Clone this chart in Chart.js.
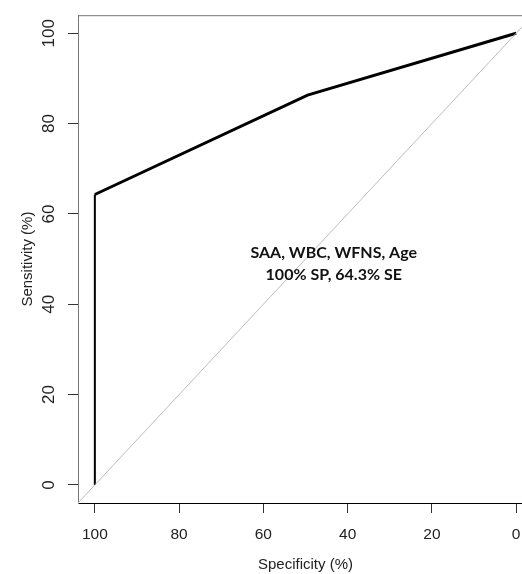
<!DOCTYPE html>
<html>
<head>
<meta charset="utf-8">
<script src="https://cdn.jsdelivr.net/npm/chart.js@4/dist/chart.umd.min.js"></script>
<style>
  html, body { margin: 0; padding: 0; background: #fff; overflow: hidden; }
  #wrap { width: 522px; height: 574px; overflow: hidden; }
  canvas { display: block; }
</style>
</head>
<body>
<div id="wrap"><canvas id="c" width="534" height="574"></canvas></div>
<script>
// ROC curve (specificity %, sensitivity %)
const specificity = [100, 100, 49.5, 0];
const sensitivity = [0, 64.3, 86.3, 100];
// chance (identity) line across the whole plot region
const chanceSpecificity = [104, -4];
const chanceSensitivity = [-4, 104];
// axis ticks
const xTickValues = [100, 80, 60, 40, 20, 0];
const yTickValues = [0, 20, 40, 60, 80, 100];
// annotation
const annotationLines = ["SAA, WBC, WFNS, Age", "100% SP, 64.3% SE"];
const annotationAt = { x: 43.3, y: 48.9 };

const FONT = '"Liberation Sans", Arial, sans-serif';

const rocPoints = specificity.map((s, i) => ({ x: s, y: sensitivity[i] }));
const chancePoints = chanceSpecificity.map((s, i) => ({ x: s, y: chanceSensitivity[i] }));

const frameAndText = {
  id: 'frameAndText',
  beforeDatasetsDraw(chart) {
    const { ctx, chartArea: a } = chart;
    ctx.save();
    ctx.strokeStyle = '#777';
    ctx.lineWidth = 1;
    ctx.beginPath();
    ctx.moveTo(a.left, a.top + 0.5);
    ctx.lineTo(a.right, a.top + 0.5);
    ctx.stroke();
    ctx.restore();
  },
  afterDatasetsDraw(chart) {
    const { ctx, scales } = chart;
    const cx = scales.x.getPixelForValue(annotationAt.x);
    const cy = scales.y.getPixelForValue(annotationAt.y);
    ctx.save();
    ctx.fillStyle = '#111';
    ctx.font = 'bold 16px Lato, "Open Sans", sans-serif';
    ctx.textAlign = 'center';
    ctx.textBaseline = 'middle';
    const gap = 22;
    annotationLines.forEach((t, i) => {
      ctx.fillText(t, cx, cy + (i - (annotationLines.length - 1) / 2) * gap);
    });
    ctx.restore();
  }
};

new Chart(document.getElementById('c'), {
  type: 'scatter',
  data: {
    datasets: [
      {
        data: chancePoints,
        showLine: true,
        borderColor: '#bdbdbd',
        borderWidth: 1,
        pointRadius: 0,
        fill: false
      },
      {
        data: rocPoints,
        showLine: true,
        borderColor: '#000',
        borderWidth: 3,
        pointRadius: 0,
        fill: false,
        segment: {
          borderWidth: c => (c.p0.parsed.x === c.p1.parsed.x ? 2 : 3)
        }
      }
    ]
  },
  options: {
    responsive: false,
    animation: false,
    layout: { padding: { top: 14, right: 1, left: 0, bottom: 0 } },
    plugins: { legend: { display: false }, tooltip: { enabled: false } },
    scales: {
      x: {
        type: 'linear',
        reverse: true,
        min: -4,
        max: 104,
        afterBuildTicks: s => { s.ticks = xTickValues.map(v => ({ value: v })); },
        afterFit: s => { s.height = 71; },
        grid: { drawOnChartArea: false, drawTicks: true, tickLength: 10, tickColor: '#333', tickWidth: 1 },
        border: { display: true, color: '#000', width: 1 },
        ticks: { color: '#222', font: { family: FONT, size: 15.5 }, padding: 12, maxRotation: 0 },
        title: { display: true, text: 'Specificity (%)', color: '#222', font: { family: FONT, size: 15 }, padding: { top: 12, bottom: 0 } }
      },
      y: {
        type: 'linear',
        min: -4,
        max: 104,
        afterBuildTicks: s => { s.ticks = yTickValues.map(v => ({ value: v })); },
        afterFit: s => { s.width = 78; },
        grid: { drawOnChartArea: false, drawTicks: true, tickLength: 10, tickColor: '#333', tickWidth: 1 },
        border: { display: true, color: '#777', width: 1 },
        ticks: { color: '#222', font: { family: FONT, size: 17 }, padding: 5, minRotation: 90, maxRotation: 90, crossAlign: 'center' },
        title: { display: true, text: 'Sensitivity (%)', color: '#222', font: { family: FONT, size: 15 }, padding: { top: 19, bottom: 0 } }
      }
    }
  },
  plugins: [frameAndText]
});
</script>
</body>
</html>
